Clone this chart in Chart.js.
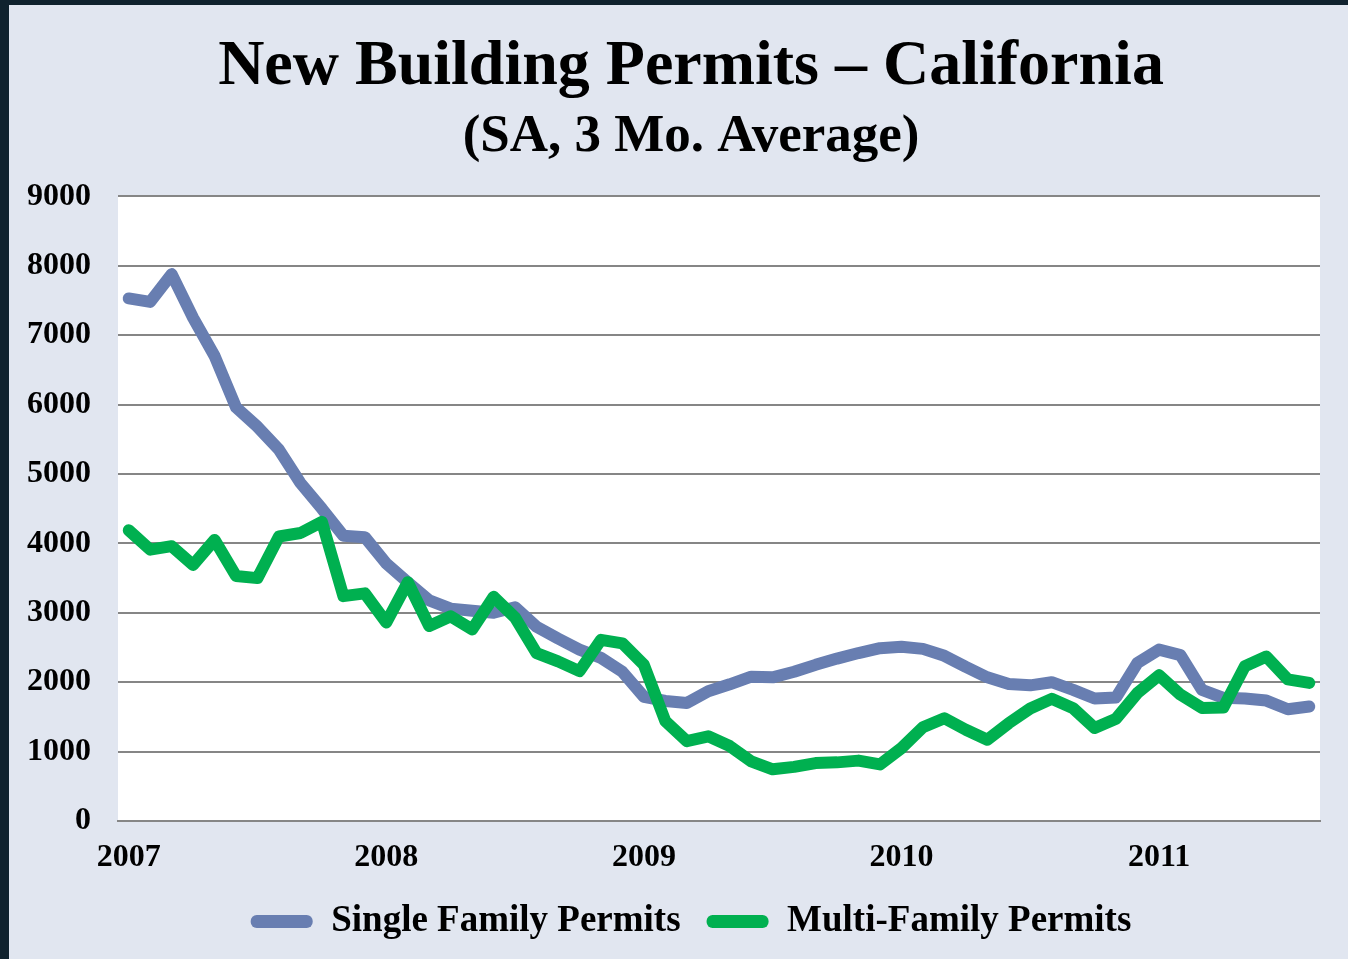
<!DOCTYPE html>
<html>
<head>
<meta charset="utf-8">
<script src="https://cdn.jsdelivr.net/npm/chart.js@4.4.1/dist/chart.umd.min.js"></script>
<style>
  html, body {
    margin: 0;
    padding: 0;
    background: #10222e;
    width: 1348px;
    height: 959px;
    overflow: hidden;
  }
  #slide {
    position: absolute;
    left: 9px;
    top: 5px;
    width: 1339px;
    height: 954px;
    background: #e1e6f0;
  }
</style>
</head>
<body>
<div id="slide">
  <canvas id="permitChart" width="1339" height="954"></canvas>
</div>
<script>
//year labels shown on the x axis (one per january)
const years = ["2007", "2008", "2009", "2010", "2011"];
const monthsShown = 56; //jan 2007 .. aug 2011

//single family permits, 3 month average
const singleFamily = [
  7530, 7480, 7880, 7250, 6700, 5960, 5680, 5350, 4870, 4500, 4110, 4090,
  3710, 3440, 3180, 3060, 3030, 3000, 3080, 2800, 2630, 2470, 2350, 2150,
  1790, 1730, 1700, 1870, 1970, 2080, 2070, 2150, 2250, 2340, 2420, 2490,
  2510, 2480, 2380, 2220, 2070, 1975, 1955, 2000, 1890, 1765, 1780, 2280,
  2470, 2390, 1890, 1775, 1765, 1735, 1610, 1650
];

//multi-family permits, 3 month average
const multiFamily = [
  4190, 3910, 3960, 3690, 4050, 3530, 3500, 4100, 4150, 4310, 3240, 3280,
  2860, 3440, 2810, 2950, 2760, 3230, 2930, 2420, 2300, 2160, 2610, 2560,
  2250, 1440, 1150, 1220, 1080, 860, 745, 780, 835, 845, 870, 815,
  1050, 1350, 1480, 1315, 1170, 1410, 1620, 1760, 1625, 1340, 1475, 1845,
  2100, 1820, 1630, 1635, 2230, 2370, 2040, 1990
];

//y axis tick values
const yTicks = [0, 1000, 2000, 3000, 4000, 5000, 6000, 7000, 8000, 9000];

//builds one category per month, only januaries get a visible label
const monthLabels = [];
for (let i = 0; i < monthsShown; i++) {
  const year = years[Math.floor(i / 12)];
  monthLabels.push(year + "-" + String((i % 12) + 1).padStart(2, "0"));
}

const serif = "'Liberation Serif', 'Times New Roman', serif";

//paints the plot area white before the grid is drawn
const plotBackground = {
  id: "plotBackground",
  beforeDraw: (chart) => {
    const { ctx, chartArea } = chart;
    ctx.save();
    ctx.fillStyle = "#ffffff";
    ctx.fillRect(chartArea.left, chartArea.top, chartArea.right - chartArea.left, chartArea.bottom - chartArea.top);
    ctx.restore();
  },
};

//the slide centres title and legend a bit right of the canvas centre,
//so the full width boxes (title, subtitle, legend) start a little further in
const centreShift = {
  id: "centreShift",
  afterLayout: (chart) => {
    chart.boxes.forEach((box) => {
      if (box.fullSize && (box.position === "top" || box.position === "bottom")) {
        box.left += 53;
      }
    });
  },
};

const ctx = document.getElementById("permitChart").getContext("2d");

new Chart(ctx, {
  type: "line",
  data: {
    labels: monthLabels,
    datasets: [
      {
        label: "Single Family Permits",
        data: singleFamily,
        borderColor: "#687eb1",
        backgroundColor: "#687eb1",
        borderWidth: 12,
        pointRadius: 0,
        tension: 0,
        borderCapStyle: "round",
        borderJoinStyle: "round",
        order: 2,
      },
      {
        label: "Multi-Family Permits",
        data: multiFamily,
        borderColor: "#00b050",
        backgroundColor: "#00b050",
        borderWidth: 12,
        pointRadius: 0,
        tension: 0,
        borderCapStyle: "round",
        borderJoinStyle: "round",
        order: 1,
      },
    ],
  },
  options: {
    responsive: false,
    animation: false,
    layout: {
      padding: { left: 0, right: 28, top: 24, bottom: 9 },
    },
    scales: {
      x: {
        offset: true,
        grid: { display: false, offset: false },
        border: { display: true, color: "#868686", width: 2 },
        ticks: {
          autoSkip: false,
          maxRotation: 0,
          color: "#000000",
          padding: 10,
          font: { family: serif, size: 32, weight: "bold" },
          callback: function (value, index) {
            return index % 12 === 0 ? years[index / 12] : "";
          },
        },
        afterFit: (scale) => {
          scale.height = 56;
        },
      },
      y: {
        min: yTicks[0],
        max: yTicks[yTicks.length - 1],
        border: { display: false },
        grid: { color: "#868686", lineWidth: 2, drawTicks: false },
        afterBuildTicks: (scale) => {
          scale.ticks = yTicks.map((v) => ({ value: v }));
        },
        ticks: {
          color: "#000000",
          padding: 27,
          font: { family: serif, size: 32, weight: "bold" },
          callback: (value) => String(value),
        },
        afterFit: (scale) => {
          scale.width = 109;
        },
      },
    },
    plugins: {
      tooltip: { enabled: false },
      title: {
        display: true,
        text: "New Building Permits – California",
        color: "#000000",
        font: { family: serif, size: 64, weight: "bold" },
        padding: { top: 0, bottom: 0 },
      },
      subtitle: {
        display: true,
        text: "(SA, 3 Mo. Average)",
        color: "#000000",
        font: { family: serif, size: 53, weight: "bold" },
        padding: { top: 0, bottom: 27 },
      },
      legend: {
        position: "bottom",
        labels: {
          color: "#000000",
          font: { family: serif, size: 37, weight: "bold" },
          boxWidth: 62,
          boxHeight: 13,
          useBorderRadius: true,
          borderRadius: 6,
          padding: 26,
          sort: (a, b) => a.datasetIndex - b.datasetIndex,
          generateLabels: (chart) =>
            Chart.defaults.plugins.legend.labels
              .generateLabels(chart)
              .map((item) => ({ ...item, lineWidth: 0 })),
        },
      },
    },
  },
  plugins: [plotBackground, centreShift],
});
</script>
</body>
</html>
